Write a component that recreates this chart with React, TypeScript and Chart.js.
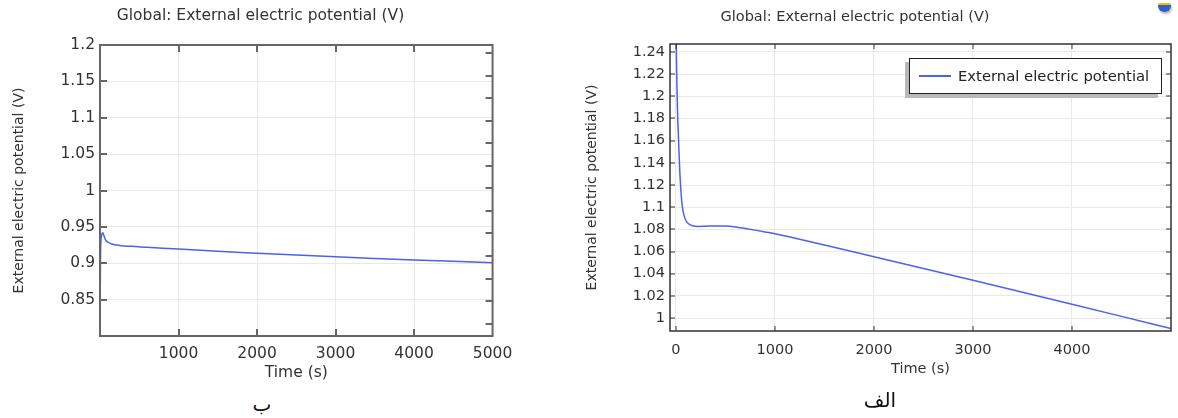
import { useEffect, useRef } from "react";
import { Chart, registerables } from "chart.js";

Chart.register(...registerables);

const FONT = "'DejaVu Sans', 'Noto Sans', sans-serif";
const LINE = "#4a62ee";
const TEXT = "#333333";
const GRID = "#e9e9e9";

const seriesLabel = "External electric potential";
const chartTitle = "Global: External electric potential (V)";
const yTitle = "External electric potential (V)";
const xTitle = "Time (s)";

// Left chart (ب)
const leftTimes = [0, 3, 6, 10, 20, 35, 50, 70, 100, 150, 250, 400, 600, 800, 1000, 1500, 2000, 2500, 3000, 3500, 4000, 4500, 5000];
const leftVolts = [0.823, 0.86, 0.9, 0.925, 0.938, 0.942, 0.938, 0.932, 0.929, 0.9265, 0.9245, 0.9232, 0.922, 0.9207, 0.9195, 0.9165, 0.9138, 0.9112, 0.9088, 0.9066, 0.9045, 0.9026, 0.9008];
const leftXTicks = [1000, 2000, 3000, 4000, 5000];
const leftYTicks = [0.85, 0.9, 0.95, 1, 1.05, 1.1, 1.15, 1.2];
const leftRightTicks = [0.817, 0.848, 0.879, 0.91, 0.941, 0.972, 1.003, 1.034, 1.065, 1.096, 1.127, 1.158, 1.189];
const leftXRange = [0, 5000];
const leftYRange = [0.8, 1.2];

// Right chart (الف)
const rightTimes = [0, 5, 10, 15, 20, 27, 35, 45, 55, 65, 80, 100, 130, 170, 220, 300, 400, 500, 600, 700, 800, 900, 1000, 1500, 2000, 2500, 3000, 3500, 4000, 4500, 5000];
const rightVolts = [1.27, 1.235, 1.21, 1.19, 1.175, 1.16, 1.14, 1.122, 1.109, 1.1, 1.093, 1.088, 1.0848, 1.0832, 1.0826, 1.0828, 1.0831, 1.083, 1.0822, 1.0808, 1.0793, 1.0777, 1.076, 1.0658, 1.0553, 1.0447, 1.034, 1.0232, 1.0124, 1.0015, 0.9905];
const rightXTicks = [0, 1000, 2000, 3000, 4000];
const rightYTicks = [1, 1.02, 1.04, 1.06, 1.08, 1.1, 1.12, 1.14, 1.16, 1.18, 1.2, 1.22, 1.24];
const rightXRange = [-60, 5000];
const rightYRange = [0.9883, 1.2472];

const fmt = (v: number) => String(Number(Number(v).toFixed(3)));

const frameTicks = {
  id: "frameTicks",
  afterDraw(chart: any, _args: any, opts: any) {
    if (!opts || !opts.enabled) return;
    const { ctx, chartArea: a, scales } = chart;
    const xs = scales.x;
    const ys = scales.y;
    const len = opts.len;
    ctx.save();
    ctx.strokeStyle = opts.color;
    ctx.lineWidth = opts.tickWidth;
    ctx.beginPath();
    for (const v of opts.xTicks) {
      const px = Math.round(xs.getPixelForValue(v));
      if (px < a.left + 2 || px > a.right - 2) continue;
      ctx.moveTo(px, a.top);
      ctx.lineTo(px, a.top + len);
      ctx.moveTo(px, a.bottom);
      ctx.lineTo(px, a.bottom - len);
    }
    for (const v of opts.yTicks) {
      const py = Math.round(ys.getPixelForValue(v));
      if (py < a.top + 2 || py > a.bottom - 2) continue;
      ctx.moveTo(a.left, py);
      ctx.lineTo(a.left + len, py);
    }
    for (const v of opts.rTicks) {
      const py = Math.round(ys.getPixelForValue(v));
      if (py < a.top + 2 || py > a.bottom - 2) continue;
      ctx.moveTo(a.right, py);
      ctx.lineTo(a.right - len, py);
    }
    ctx.stroke();
    ctx.lineWidth = opts.frameWidth;
    ctx.strokeRect(a.left, a.top, a.right - a.left, a.bottom - a.top);
    ctx.restore();
  },
};

const boxLegend = {
  id: "boxLegend",
  afterDraw(chart: any, _args: any, opts: any) {
    if (!opts || !opts.enabled) return;
    const ds = chart.data.datasets[0];
    const { ctx, chartArea: a } = chart;
    ctx.save();
    ctx.font = `${opts.fontSize}px ${FONT}`;
    const tw = ctx.measureText(ds.label).width;
    const w = Math.round(opts.padL + opts.sample + opts.gap + tw + opts.padR);
    const h = opts.height;
    const right = Math.round(a.right - opts.offsetRight);
    const left = right - w;
    const top = Math.round(a.top + opts.offsetTop);
    ctx.fillStyle = "#b9b9b9";
    ctx.fillRect(left - 4, top + 4, w, h);
    ctx.fillStyle = "#ffffff";
    ctx.fillRect(left, top, w, h);
    ctx.strokeStyle = "#222222";
    ctx.lineWidth = 1;
    ctx.strokeRect(left + 0.5, top + 0.5, w - 1, h - 1);
    const cy = top + h / 2;
    ctx.strokeStyle = ds.borderColor;
    ctx.lineWidth = 2;
    ctx.beginPath();
    ctx.moveTo(left + opts.padL, cy);
    ctx.lineTo(left + opts.padL + opts.sample, cy);
    ctx.stroke();
    ctx.fillStyle = "#222222";
    ctx.textBaseline = "middle";
    ctx.textAlign = "left";
    ctx.fillText(ds.label, left + opts.padL + opts.sample + opts.gap, cy + 1);
    ctx.restore();
  },
};

type Spec = {
  times: number[];
  volts: number[];
  xTicks: number[];
  yTicks: number[];
  rTicks: number[];
  xRange: number[];
  yRange: number[];
  fontSize: number;
  legendSize: number;
  yTitleSize: number;
  titlePad: { top: number; bottom: number };
  yAxisWidth: number;
  y2Width: number;
  xAxisHeight: number;
  xTickPad: number;
  xTitlePad: number;
  yTitlePad: number;
  frameColor: string;
  frameWidth: number;
  tickLen: number;
  tickWidth: number;
  legend: boolean;
};

function makeConfig(s: Spec): any {
  const font = { family: FONT, size: s.fontSize, weight: "normal" as const };
  return {
    type: "line",
    data: {
      datasets: [
        {
          label: seriesLabel,
          data: s.times.map((t, i) => ({ x: t, y: s.volts[i] })),
          borderColor: LINE,
          backgroundColor: LINE,
          borderWidth: 1.5,
          pointRadius: 0,
          cubicInterpolationMode: "monotone",
          fill: false,
          yAxisID: "y",
          xAxisID: "x",
        },
      ],
    },
    options: {
      animation: false,
      responsive: false,
      devicePixelRatio: 1,
      events: [],
      layout: { padding: 0, autoPadding: false },
      plugins: {
        legend: { display: false },
        tooltip: { enabled: false },
        title: {
          display: true,
          text: chartTitle,
          color: TEXT,
          font,
          padding: s.titlePad,
        },
        frameTicks: {
          enabled: true,
          color: s.frameColor,
          frameWidth: s.frameWidth,
          tickWidth: s.tickWidth,
          len: s.tickLen,
          xTicks: s.xTicks,
          yTicks: s.yTicks,
          rTicks: s.rTicks,
        },
        boxLegend: {
          enabled: s.legend,
          fontSize: s.legendSize,
          padL: 10,
          sample: 32,
          gap: 7,
          padR: 13,
          height: 36,
          offsetRight: 9,
          offsetTop: 14,
        },
      },
      scales: {
        x: {
          type: "linear",
          position: "bottom",
          min: s.xRange[0],
          max: s.xRange[1],
          afterBuildTicks: (sc: any) => {
            sc.ticks = s.xTicks.map((v) => ({ value: v }));
          },
          afterFit: (sc: any) => {
            sc.height = s.xAxisHeight;
          },
          grid: { color: GRID, lineWidth: 1, drawTicks: false },
          border: { display: false },
          ticks: {
            color: TEXT,
            font,
            padding: s.xTickPad,
            maxRotation: 0,
            autoSkip: false,
            callback: (v: any) => fmt(v),
          },
          title: {
            display: true,
            text: xTitle,
            color: TEXT,
            font,
            padding: { top: 0, bottom: s.xTitlePad },
          },
        },
        y: {
          type: "linear",
          position: "left",
          min: s.yRange[0],
          max: s.yRange[1],
          afterBuildTicks: (sc: any) => {
            sc.ticks = s.yTicks.map((v) => ({ value: v }));
          },
          afterFit: (sc: any) => {
            sc.width = s.yAxisWidth;
          },
          grid: { color: GRID, lineWidth: 1, drawTicks: false },
          border: { display: false },
          ticks: {
            color: TEXT,
            font,
            padding: 5,
            autoSkip: false,
            callback: (v: any) => fmt(v),
          },
          title: {
            display: true,
            text: yTitle,
            color: TEXT,
            font: { family: FONT, size: s.yTitleSize, weight: "normal" },
            padding: { top: s.yTitlePad, bottom: 0 },
          },
        },
        y2: {
          type: "linear",
          position: "right",
          min: s.yRange[0],
          max: s.yRange[1],
          afterFit: (sc: any) => {
            sc.width = s.y2Width;
          },
          grid: { display: false, drawTicks: false },
          border: { display: false },
          ticks: { display: false },
        },
      },
    },
    plugins: [frameTicks, boxLegend],
  };
}

const leftSpec: Spec = {
  times: leftTimes,
  volts: leftVolts,
  xTicks: leftXTicks,
  yTicks: leftYTicks,
  rTicks: leftRightTicks,
  xRange: leftXRange,
  yRange: leftYRange,
  fontSize: 15.5,
  legendSize: 15.5,
  yTitleSize: 14,
  titlePad: { top: 6.7, bottom: 19.7 },
  yAxisWidth: 100,
  y2Width: 28,
  xAxisHeight: 54,
  xTickPad: 8.7,
  xTitlePad: 7.7,
  yTitlePad: 11.4,
  frameColor: "#666666",
  frameWidth: 2,
  tickLen: 7,
  tickWidth: 2,
  legend: false,
};

const rightSpec: Spec = {
  times: rightTimes,
  volts: rightVolts,
  xTicks: rightXTicks,
  yTicks: rightYTicks,
  rTicks: rightYTicks,
  xRange: rightXRange,
  yRange: rightYRange,
  fontSize: 14.5,
  legendSize: 14.8,
  yTitleSize: 14,
  titlePad: { top: 8.3, bottom: 18.3 },
  yAxisWidth: 138,
  y2Width: 7,
  xAxisHeight: 59,
  xTickPad: 11,
  xTitlePad: 12,
  yTitlePad: 52.2,
  frameColor: "#333333",
  frameWidth: 1.5,
  tickLen: 5,
  tickWidth: 1,
  legend: true,
};

function ChartCanvas({ spec, left, width }: { spec: Spec; left: number; width: number }) {
  const ref = useRef<HTMLCanvasElement | null>(null);
  useEffect(() => {
    if (!ref.current) return;
    const chart = new Chart(ref.current, makeConfig(spec));
    return () => chart.destroy();
  }, [spec]);
  return (
    <canvas
      ref={ref}
      width={width}
      height={390}
      style={{ position: "absolute", left, top: 0, width, height: 390 }}
    />
  );
}

export default function App() {
  return (
    <div
      style={{
        position: "absolute",
        left: 0,
        top: 0,
        width: 1178,
        height: 418,
        background: "#ffffff",
        overflow: "hidden",
      }}
    >
      <ChartCanvas spec={leftSpec} left={0} width={521} />
      <ChartCanvas spec={rightSpec} left={532} width={646} />
      <div
        style={{
          position: "absolute",
          left: 1158,
          top: 3,
          width: 13,
          height: 9,
          borderRadius: "2px 2px 6px 6px",
          background: "linear-gradient(#f0c000 0 25%, #2f5fc8 25%)",
          boxShadow: "1px 2px 2px #bbb",
        }}
      />
      <div
        dir="rtl"
        style={{
          position: "absolute",
          left: 212,
          width: 100,
          top: 390,
          textAlign: "center",
          fontFamily: FONT,
          fontSize: 20,
          lineHeight: "28px",
          color: "#111",
        }}
      >
        ب
      </div>
      <div
        dir="rtl"
        style={{
          position: "absolute",
          left: 830,
          width: 100,
          top: 386,
          textAlign: "center",
          fontFamily: FONT,
          fontSize: 20,
          lineHeight: "28px",
          color: "#111",
        }}
      >
        الف
      </div>
    </div>
  );
}
